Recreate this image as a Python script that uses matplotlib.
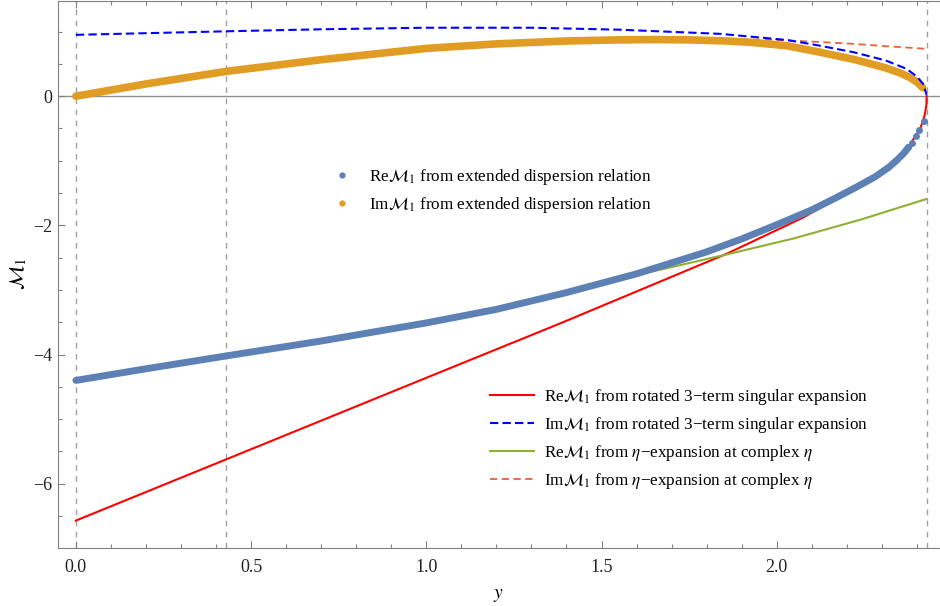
import numpy as np
import matplotlib
matplotlib.use('Agg')
import matplotlib.pyplot as plt
from matplotlib.lines import Line2D
from matplotlib.ticker import MultipleLocator, FormatStrFormatter

plt.rcParams['font.family'] = ['Liberation Serif', 'DejaVu Serif']
plt.rcParams['mathtext.fontset'] = 'stix'

# Re M1 from the extended dispersion relation (dense dots, last few are sparse)
re_disp_x = [0.0, 0.2, 0.43, 0.7, 1.0, 1.2, 1.4, 1.6, 1.8, 1.9, 2.0, 2.1, 2.17,
             2.23, 2.28, 2.32, 2.345, 2.365, 2.376, 2.385, 2.397, 2.407, 2.420]
re_disp_y = [-4.40, -4.22, -4.02, -3.79, -3.51, -3.30, -3.04, -2.75, -2.41, -2.21,
             -1.99, -1.76, -1.57, -1.40, -1.25, -1.10, -0.98, -0.87, -0.79, -0.72,
             -0.62, -0.52, -0.377]
n_sparse = 4

# Im M1 from the extended dispersion relation
im_disp_x = [0.0, 0.1, 0.2, 0.43, 0.7, 1.0, 1.2, 1.4, 1.55, 1.65, 1.75, 1.85, 1.93,
             2.03, 2.12, 2.22, 2.31, 2.35, 2.38, 2.40, 2.417]
im_disp_y = [0.0, 0.095, 0.19, 0.385, 0.565, 0.74, 0.81, 0.855, 0.872, 0.877, 0.872,
             0.857, 0.833, 0.78, 0.685, 0.57, 0.44, 0.365, 0.29, 0.22, 0.13]

# rotated 3-term singular expansion
re_sing_x = [0.0, 0.43, 1.0, 1.381, 1.857, 2.075, 2.2, 2.28, 2.34, 2.38, 2.41,
             2.422, 2.427, 2.428]
re_sing_y = [-6.57, -5.62, -4.36, -3.52, -2.44, -1.88, -1.50, -1.27, -1.01, -0.75,
             -0.50, -0.30, -0.15, 0.0]
im_sing_x = [0.0, 0.43, 0.7, 1.0, 1.3, 1.55, 1.84, 2.03, 2.12, 2.22, 2.31, 2.37,
             2.40, 2.418, 2.428]
im_sing_y = [0.95, 1.005, 1.036, 1.06, 1.06, 1.03, 0.965, 0.87, 0.785, 0.68, 0.555,
             0.425, 0.305, 0.19, 0.02]

# eta-expansion at complex eta
re_eta_x = [0.0, 0.43, 0.7, 1.0, 1.2, 1.4, 1.6, 1.857, 2.05, 2.24, 2.428]
re_eta_y = [-4.40, -4.02, -3.79, -3.51, -3.30, -3.04, -2.77, -2.45, -2.20, -1.91, -1.59]
im_eta_x = [0.0, 0.43, 0.7, 1.0, 1.2, 1.4, 1.55, 1.75, 1.85, 1.98, 2.12, 2.22, 2.31,
            2.428]
im_eta_y = [0.0, 0.385, 0.565, 0.74, 0.81, 0.855, 0.872, 0.88, 0.882, 0.875, 0.84,
            0.81, 0.775, 0.733]

# reference positions in y
vlines = [0.0, 0.429, 2.428]

c_blue = '#5E81B5'
c_orange = '#E19C24'
c_green = '#8FB032'
c_red_orange = '#EB6235'

fig = plt.figure(figsize=(9.4, 6.06), dpi=100)
ax = fig.add_axes([57.5/940, 1 - 547.7/606, 1 - 57.5/940, 547.7/606 - 0.001])

for xv in vlines:
    ax.axvline(xv, color='#a0a0a0', lw=1, ls=(0, (4, 4)), zorder=1)
ax.axhline(0, color='#909090', lw=1, zorder=1)

# expansion curves (under the dots)
ax.plot(re_sing_x, re_sing_y, color='red', lw=1.5, zorder=2)
ax.plot(im_sing_x, im_sing_y, color='blue', lw=1.5, ls=(0, (4, 2)), zorder=4)
ax.plot(re_eta_x, re_eta_y, color=c_green, lw=1.5, zorder=2)
ax.plot(im_eta_x, im_eta_y, color=c_red_orange, lw=1.3, ls=(0, (4, 2.5)), zorder=2)

# dispersion relation dots: dense part as a thick band, sparse end as dots
ax.plot(re_disp_x[:-n_sparse], re_disp_y[:-n_sparse], color=c_blue, lw=5,
        solid_capstyle='round', solid_joinstyle='round', zorder=3)
ax.plot(re_disp_x[-n_sparse - 1:], re_disp_y[-n_sparse - 1:], 'o', color=c_blue,
        ms=5, mew=0, zorder=3)
ax.plot(im_disp_x, im_disp_y, color=c_orange, lw=5.5, solid_capstyle='round',
        solid_joinstyle='round', zorder=3)

ax.set_xlim(-0.0525, 2.466)
ax.set_ylim(-6.99, 1.48)

ax.xaxis.set_major_locator(MultipleLocator(0.5))
ax.xaxis.set_minor_locator(MultipleLocator(0.1))
ax.xaxis.set_major_formatter(FormatStrFormatter('%.1f'))
ax.yaxis.set_major_locator(MultipleLocator(2))
ax.yaxis.set_minor_locator(MultipleLocator(0.5))

ax.tick_params(which='both', direction='in', colors='#808080', labelcolor='#222222',
               labelsize=13, top=True, right=False, width=0.8)
ax.tick_params(which='major', length=5)
ax.tick_params(which='minor', length=3)
ax.tick_params(axis='x', pad=8)
for side in ['left', 'bottom', 'top']:
    ax.spines[side].set_color('#808080')
ax.spines['right'].set_visible(False)

ax.set_xlabel('$y$', fontsize=14, labelpad=8)
ax.set_ylabel(r'$\mathcal{M}_1$', fontsize=15, labelpad=3)

fs = 12.3
h1 = [Line2D([], [], ls='none', marker='o', ms=4.5, mew=0, color=c_blue),
      Line2D([], [], ls='none', marker='o', ms=4.5, mew=0, color=c_orange)]
lab1 = [r'Re$\mathcal{M}_1$ from extended dispersion relation',
        r'Im$\mathcal{M}_1$ from extended dispersion relation']
leg1 = fig.legend(h1, lab1, loc='upper left', bbox_to_anchor=(333.5/940, 1 - 167/606),
                  frameon=False, fontsize=fs, handlelength=1.0, handletextpad=1.1,
                  borderpad=0, borderaxespad=0, labelspacing=0.49)

h2 = [Line2D([], [], color='red', lw=1.5),
      Line2D([], [], color='blue', lw=1.5, ls=(0, (4, 2))),
      Line2D([], [], color=c_green, lw=1.5),
      Line2D([], [], color=c_red_orange, lw=1.3, ls=(0, (4, 2.5)))]
lab2 = ['Re$\\mathcal{M}_1$ from rotated 3\u2212term singular expansion',
        'Im$\\mathcal{M}_1$ from rotated 3\u2212term singular expansion',
        'Re$\\mathcal{M}_1$ from $\\eta$\u2212expansion at complex $\\eta$',
        'Im$\\mathcal{M}_1$ from $\\eta$\u2212expansion at complex $\\eta$']
leg2 = fig.legend(h2, lab2, loc='upper left', bbox_to_anchor=(490/940, 1 - 387/606),
                  frameon=False, fontsize=fs, handlelength=2.6, handletextpad=0.55,
                  borderpad=0, borderaxespad=0, labelspacing=0.46)

fig.savefig('out.png', dpi=100)
